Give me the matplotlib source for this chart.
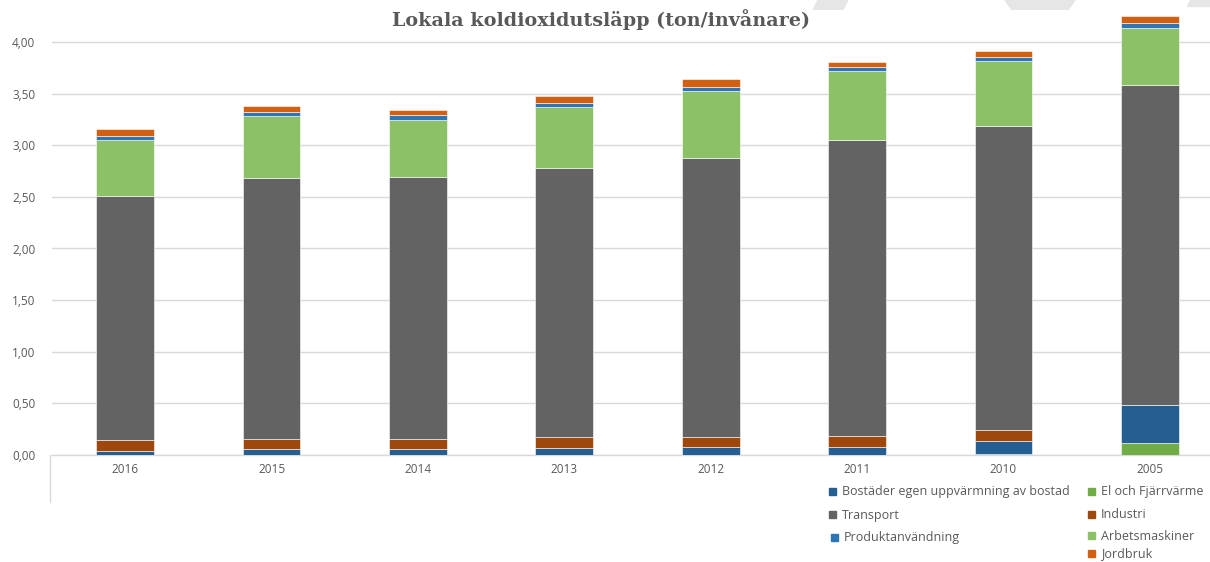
import numpy as np
import matplotlib
matplotlib.use("Agg")
import matplotlib.pyplot as plt
from matplotlib.lines import Line2D
from matplotlib.patches import Polygon, Rectangle

years = ["2016", "2015", "2014", "2013", "2012", "2011", "2010", "2005"]

# ton/invånare per sektor (stacked bottom -> top)
el_fjarrvarme = [0.0, 0.0, 0.0, 0.0, 0.0, 0.0, 0.013, 0.116]
bostader = [0.039, 0.055, 0.055, 0.068, 0.074, 0.074, 0.122, 0.368]
industri = [0.106, 0.097, 0.097, 0.103, 0.097, 0.113, 0.107, 0.0]
transport = [2.360, 2.527, 2.537, 2.611, 2.707, 2.864, 2.944, 3.104]
arbetsmaskiner = [0.546, 0.603, 0.555, 0.587, 0.646, 0.666, 0.628, 0.550]
produktanvandning = [0.039, 0.039, 0.048, 0.044, 0.045, 0.039, 0.045, 0.048]
jordbruk = [0.070, 0.057, 0.054, 0.068, 0.068, 0.054, 0.057, 0.062]

yticks = [0, 0.5, 1.0, 1.5, 2.0, 2.5, 3.0, 3.5, 4.0]

c_bos = "#255E91"
c_el = "#70AD47"
c_tra = "#636363"
c_ind = "#9E480E"
c_pro = "#2E75B6"
c_arb = "#8CC168"
c_jor = "#D26012"
txt = "#595959"

W, H = 1210, 562
fig = plt.figure(figsize=(W / 100, H / 100), dpi=100)
ax = fig.add_axes([52 / W, (H - 455) / H, 1171 / W, 445 / H])

stack = [
    (el_fjarrvarme, c_el),
    (bostader, c_bos),
    (industri, c_ind),
    (transport, c_tra),
    (arbetsmaskiner, c_arb),
    (produktanvandning, c_pro),
    (jordbruk, c_jor),
]
x = np.arange(len(years))
bottom = np.zeros(len(years))
for vals, col in stack:
    v = np.array(vals)
    ax.bar(x, v, width=0.395, bottom=bottom, color=col, edgecolor="white",
           linewidth=0.4, zorder=3)
    bottom += v

ax.set_xlim(-0.5, len(years) - 0.5)
ax.set_ylim(0, 445 / 103.25)
ax.set_yticks(yticks)
ax.set_yticklabels([f"{t:.2f}".replace(".", ",") for t in yticks],
                   fontsize=8.5, color=txt, family="Open Sans")
ax.set_xticks(x)
ax.set_xticklabels(years, fontsize=8.5, color=txt, family="Open Sans")
ax.tick_params(length=0, pad=6)
ax.tick_params(axis="y", pad=12)
ax.yaxis.grid(True, color="#D9D9D9", linewidth=1.0, zorder=0)
ax.set_axisbelow(True)
for s in ["top", "right", "left"]:
    ax.spines[s].set_visible(False)
ax.spines["bottom"].set_color("#D9D9D9")
ax.spines["bottom"].set_linewidth(1.0)

# separator line under the axis
fig.add_artist(Line2D([50 / W, 50 / W], [(H - 455) / H, (H - 502) / H],
                      color="#D9D9D9", linewidth=1.0))

# faint watermark strokes at the top
for pts in [
    [(818, 0), (848, 0), (838, 20), (808, 20)],
    [(1005, 0), (1075, 0), (1068, 10), (1012, 10)],
    [(1190, 0), (1210, 0), (1210, 6), (1187, 6)],
]:
    fig.add_artist(Polygon([(px / W, 1 - py / H) for px, py in pts],
                           closed=True, color="#E6E6E6", zorder=0,
                           transform=fig.transFigure))

fig.text(601 / W, 1 - 20 / H, "Lokala koldioxidutsläpp (ton/invånare)",
         ha="center", va="center", fontsize=13.8, fontweight="bold",
         color=txt, family="DejaVu Serif")

legend = [
    ("Bostäder egen uppvärmning av bostad", c_bos, 832, 492),
    ("Transport", c_tra, 832, 515),
    ("Produktanvändning", c_pro, 834, 538),
    ("El och Fjärrvärme", c_el, 1091, 492),
    ("Industri", c_ind, 1091, 515),
    ("Arbetsmaskiner", c_arb, 1091, 536),
    ("Jordbruk", c_jor, 1091, 554),
]
for label, col, lx, ly in legend:
    fig.add_artist(Rectangle(((lx - 3) / W, 1 - (ly + 3) / H), 7 / W, 7 / H,
                             color=col, transform=fig.transFigure))
    fig.text((lx + 10) / W, 1 - ly / H, label, ha="left", va="center",
             fontsize=9, color=txt, family="Open Sans")

fig.savefig("out.png", dpi=100, facecolor="white")
